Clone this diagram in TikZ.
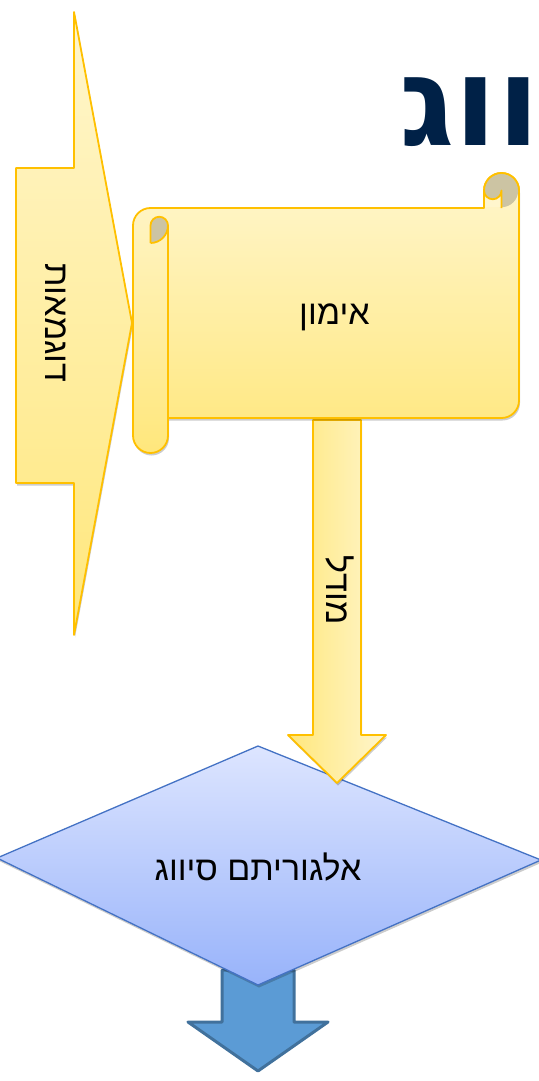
\documentclass[tikz,border=0pt]{standalone}
\usepackage{fontspec}
\setmainfont{Liberation Sans}
\newfontfamily\hebfont[Script=Hebrew]{Liberation Sans}
\newfontfamily\headfont[Script=Hebrew]{DejaVu Sans}
\TeXXeTstate=1
\usetikzlibrary{shadows}
\definecolor{gold}{HTML}{FFC000}
\definecolor{ylight}{HTML}{FFF6CD}
\definecolor{ydark}{HTML}{FFE77C}
\definecolor{curl}{HTML}{CCC4A3}
\definecolor{bluelight}{HTML}{DDE5FF}
\definecolor{bluedark}{HTML}{98B3FA}
\definecolor{blueline}{HTML}{4472C4}
\definecolor{arrowblue}{HTML}{5B9BD5}
\definecolor{arrowline}{HTML}{41719C}
\definecolor{navy}{HTML}{002147}
\tikzset{
  yshape/.style={draw=gold, line width=1.8pt, line join=round},
  vgrad/.style={top color=ylight, bottom color=ydark},
  softshadow/.style={drop shadow={shadow xshift=1pt, shadow yshift=-2.5pt, opacity=0.2, fill=black}},
  hebtext/.style={font=\hebfont\fontsize{34}{40}\selectfont, text=black, inner sep=0pt},
}
\begin{document}
\begin{tikzpicture}[x=1pt, y=-1pt]
\useasboundingbox (0,0) rectangle (538,1081);

% heading
\node[anchor=base west, inner sep=0pt, text=navy,
      font=\headfont\bfseries\fontsize{124}{130}\selectfont] (title) at (399,145) {\beginR ווג\endR};

% input arrow
\path[yshape, vgrad, softshadow] (16,168) -- (74,168) -- (74,12) -- (132,323) -- (74,635)
   -- (74,483) -- (16,483) -- cycle;
\node[hebtext, rotate=-90] (examples) at (56,323) {\beginR דוגמאות\endR};

% bottom blue arrow
\path[draw=arrowline, fill=arrowblue, line width=3pt, line join=round]
   (222,970) -- (294,970) -- (294,1022) -- (328,1022) -- (258,1071) -- (188,1022) -- (222,1022) -- cycle;

% decision diamond
\path[draw=blueline, line width=1.3pt, top color=bluelight, bottom color=bluedark, softshadow]
   (258,746) -- (541,860) -- (258,985) -- (-3,858) -- cycle;
\node[hebtext] (algo) at (258,867) {\beginR אלגוריתם סיווג\endR};

% model arrow from the scroll down to the diamond
\path[yshape, left color=ydark, right color=ylight, softshadow] (313,420) -- (361,420) -- (361,735)
   -- (386,735) -- (337,783) -- (288,735) -- (313,735) -- cycle;
\node[hebtext, rotate=-90] (model) at (340,590) {\beginR מודל\endR};

% scroll body
\path[yshape, vgrad, softshadow]
  (168,418) -- (501.5,418) arc[start angle=270, end angle=360, radius=17.5pt]
  -- (519,190.5) arc[start angle=0, end angle=180, radius=17.5pt]
  -- (484,208) -- (150.5,208) arc[start angle=90, end angle=180, radius=17.5pt]
  -- (133,435.5) arc[start angle=180, end angle=360, radius=17.5pt]
  -- cycle;
% top right curl
\fill[curl] (501.5,190.5) circle[radius=16.7pt];
\fill[ylight] (484.8,190.5) rectangle (501.5,207.2);
\fill[curl] (484,190.5) arc[start angle=180, end angle=360, radius=8.75pt] -- cycle;
\draw[gold, line width=1.8pt] (519,190.5) arc[start angle=0, end angle=180, radius=17.5pt] -- (484,208);
\draw[gold, line width=1.8pt, line join=round]
  (484,190.5) arc[start angle=180, end angle=360, radius=8.75pt] -- (501.5,208);
% left curl
\fill[curl] (150.5,243) -- (150.5,225.5) arc[start angle=180, end angle=0, radius=8.75pt]
  arc[start angle=0, end angle=-90, radius=17.5pt] -- cycle;
\draw[gold, line width=1.8pt, line join=round]
  (150.5,243) -- (150.5,225.5) arc[start angle=180, end angle=0, radius=8.75pt] -- (168,435.5);
\draw[gold, line width=1.8pt] (168,225.5) arc[start angle=0, end angle=-90, radius=17.5pt];
\node[hebtext] (training) at (334.5,317) {\beginR אימון\endR};
\end{tikzpicture}
\end{document}
